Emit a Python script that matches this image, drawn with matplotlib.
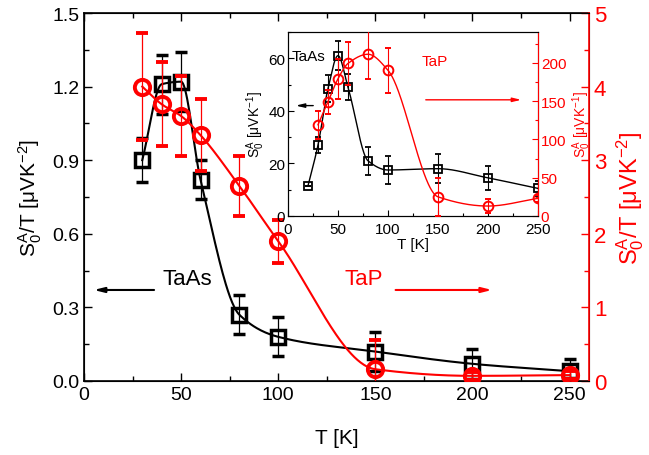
import numpy as np
import matplotlib
matplotlib.use("Agg")
import matplotlib.pyplot as plt
from matplotlib.ticker import MultipleLocator

plt.rcParams['font.family'] = ['Liberation Sans', 'DejaVu Sans']
plt.rcParams['mathtext.fontset'] = 'custom'
plt.rcParams['mathtext.rm'] = 'Liberation Sans'
plt.rcParams['mathtext.it'] = 'Liberation Sans:italic'
plt.rcParams['mathtext.default'] = 'rm'

# ---- main panel data ----
T_taas = [30, 40, 50, 60, 80, 100, 150, 200, 250]
taas = [0.90, 1.21, 1.22, 0.82, 0.27, 0.18, 0.12, 0.07, 0.04]
taas_err = [0.09, 0.12, 0.12, 0.08, 0.08, 0.08, 0.08, 0.06, 0.05]

T_tap = [30, 40, 50, 60, 80, 100, 150, 200, 250]
tap = [4.00, 3.76, 3.60, 3.34, 2.65, 1.90, 0.16, 0.07, 0.08]
tap_err = [0.73, 0.57, 0.54, 0.49, 0.41, 0.29, 0.40, 0.05, 0.05]

# ---- inset data ----
Ti_taas = [20, 30, 40, 50, 60, 80, 100, 150, 200, 250]
ins_taas = [11.5, 27, 48.5, 61, 49, 21, 17.5, 18, 14.5, 10.5]
ins_taas_err = [0, 3, 5, 5.5, 5, 5.4, 5.5, 5.5, 4.5, 3]

Ti_tap = [30, 40, 50, 60, 80, 100, 150, 200, 250]
ins_tap = [119, 149, 179, 199, 211, 190, 25, 13, 23]
ins_tap_err = [18, 16, 26, 28, 32, 29, 25, 9, 5]


def pchip(x, y, xn):
    x = np.asarray(x, float); y = np.asarray(y, float)
    h = np.diff(x); d = np.diff(y) / h
    m = np.zeros_like(y)
    for k in range(1, len(x) - 1):
        if d[k - 1] * d[k] > 0:
            w1 = 2 * h[k] + h[k - 1]; w2 = h[k] + 2 * h[k - 1]
            m[k] = (w1 + w2) / (w1 / d[k - 1] + w2 / d[k])
    m[0] = d[0]; m[-1] = d[-1]
    idx = np.clip(np.searchsorted(x, xn) - 1, 0, len(x) - 2)
    t = (xn - x[idx]) / h[idx]
    h00 = 2 * t**3 - 3 * t**2 + 1; h10 = t**3 - 2 * t**2 + t
    h01 = -2 * t**3 + 3 * t**2; h11 = t**3 - t**2
    return h00 * y[idx] + h10 * h[idx] * m[idx] + h01 * y[idx + 1] + h11 * h[idx] * m[idx + 1]


RED = '#ff0000'
fig = plt.figure(figsize=(6.49, 4.56), dpi=100)
ax = fig.add_axes([84 / 649, 1 - 382 / 456, (589 - 84) / 649, (382 - 14) / 456])
ax2 = ax.twinx()

xs = np.linspace(30, 250, 400)
ax.plot(xs, pchip(T_taas, taas, xs), color='black', lw=1.5, zorder=2)
ax.errorbar(T_taas, taas, yerr=taas_err, fmt='s', ms=9.5, mfc='none', mec='black',
            mew=2.5, ecolor='black', elinewidth=0.9, capsize=4, capthick=0.9, zorder=3)
ax2.plot(xs, pchip(T_tap, tap, xs), color=RED, lw=1.5, zorder=2)
ax2.errorbar(T_tap, tap, yerr=tap_err, fmt='o', ms=11, mfc='none', mec=RED,
             mew=2.8, ecolor=RED, elinewidth=0.9, capsize=4, capthick=0.9, zorder=3)

ax.set_xlim(0, 260)
ax.set_ylim(0, 1.5)
ax2.set_ylim(0, 5)
ax.xaxis.set_major_locator(MultipleLocator(50))
ax.xaxis.set_minor_locator(MultipleLocator(25))
ax.yaxis.set_major_locator(MultipleLocator(0.3))
ax.yaxis.set_minor_locator(MultipleLocator(0.15))
ax.yaxis.set_major_formatter(plt.FormatStrFormatter('%.1f'))
ax2.yaxis.set_major_locator(MultipleLocator(1))
ax2.yaxis.set_minor_locator(MultipleLocator(0.5))
ax.tick_params(which='both', direction='in', top=True, labelsize=14, width=1)
ax.tick_params(which='major', length=6)
ax.tick_params(which='minor', length=3.5)
ax2.tick_params(which='both', direction='in', colors=RED, labelsize=16, width=1)
ax2.tick_params(which='major', length=6)
ax2.tick_params(which='minor', length=3.5)
ax2.spines['right'].set_color(RED)
for s in ['left', 'top', 'bottom']:
    ax.spines[s].set_linewidth(1.2)
ax2.spines['right'].set_linewidth(1.2)
ax.set_xlabel('T [K]', fontsize=15, labelpad=18)
ax.set_ylabel(r'$\mathrm{S_0^A}$/T [$\mu$VK$^{-2}$]', fontsize=15, labelpad=6)
ax2.set_ylabel(r'$\mathrm{S_0^A}$/T [$\mu$VK$^{-2}$]', fontsize=17, color=RED, labelpad=6)

ax.text(40.6, 0.416, 'TaAs', fontsize=16, va='center', ha='left')
ax.annotate('', xy=(3.6, 0.371), xytext=(37.5, 0.371),
            arrowprops=dict(arrowstyle='-|>,head_length=0.6,head_width=0.15', color='black', lw=1.5))
ax.text(134, 0.416, 'TaP', fontsize=16, va='center', ha='left', color=RED)
ax.annotate('', xy=(211.5, 0.371), xytext=(159, 0.371),
            arrowprops=dict(arrowstyle='-|>,head_length=0.6,head_width=0.15', color=RED, lw=1.5))

# ---- inset ----
ia = fig.add_axes([288 / 649, 1 - 217 / 456, (538 - 288) / 649, (217 - 33) / 456])
ia2 = ia.twinx()
xi = np.linspace(20, 250, 400)
ia.plot(xi, pchip(Ti_taas, ins_taas, xi), color='black', lw=1, zorder=2)
ia.errorbar(Ti_taas, ins_taas, yerr=ins_taas_err, fmt='s', ms=6, mfc='none', mec='black',
            mew=1.3, ecolor='black', elinewidth=0.8, capsize=2.5, capthick=0.8, zorder=3)
xi2 = np.linspace(30, 250, 400)
ia2.plot(xi2, pchip(Ti_tap, ins_tap, xi2), color=RED, lw=1, zorder=2)
ia2.errorbar(Ti_tap, ins_tap, yerr=ins_tap_err, fmt='o', ms=7, mfc='none', mec=RED,
             mew=1.4, ecolor=RED, elinewidth=0.8, capsize=2.5, capthick=0.8, zorder=3)
ia.set_xlim(0, 250)
ia.set_ylim(0, 70)
ia2.set_ylim(0, 240)
ia.xaxis.set_major_locator(MultipleLocator(50))
ia.xaxis.set_minor_locator(MultipleLocator(25))
ia.yaxis.set_major_locator(MultipleLocator(20))
ia.yaxis.set_minor_locator(MultipleLocator(10))
ia2.yaxis.set_major_locator(MultipleLocator(50))
ia2.yaxis.set_minor_locator(MultipleLocator(25))
ia.tick_params(which='both', direction='in', labelsize=11, width=0.8, pad=2)
ia.tick_params(axis='x', which='both', pad=4)
ia.tick_params(which='major', length=4)
ia.tick_params(which='minor', length=2.5)
ia2.tick_params(which='both', direction='in', colors=RED, labelsize=11, width=0.8, pad=2)
ia2.tick_params(which='major', length=4)
ia2.tick_params(which='minor', length=2.5)
ia2.spines['right'].set_color(RED)
ia.set_xlabel('T [K]', fontsize=11, labelpad=1)
ia.set_ylabel(r'$\mathrm{S_0^A}$ [$\mu$VK$^{-1}$]', fontsize=10, labelpad=1)
ia2.set_ylabel(r'$\mathrm{S_0^A}$ [$\mu$VK$^{-1}$]', fontsize=10, color=RED, labelpad=3)
ia.text(4, 60.7, 'TaAs', fontsize=11, va='center', ha='left')
ia.annotate('', xy=(5, 42), xytext=(28, 42),
            arrowprops=dict(arrowstyle='-|>,head_length=0.5,head_width=0.12', color='black', lw=1))
ia.text(134, 58.8, 'TaP', fontsize=11, va='center', ha='left', color=RED)
ia.annotate('', xy=(236, 44.2), xytext=(135, 44.2),
            arrowprops=dict(arrowstyle='-|>,head_length=0.5,head_width=0.12', color=RED, lw=1))

fig.savefig('out.png', dpi=100)
